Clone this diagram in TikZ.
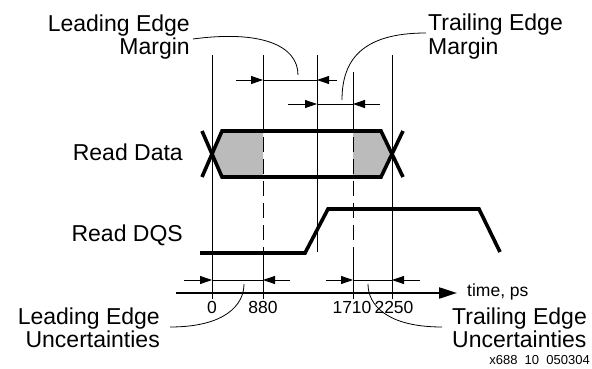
\documentclass[tikz,border=0pt]{standalone}
\usepackage{fontspec}
\setmainfont{Liberation Sans}
\usetikzlibrary{arrows.meta}
\definecolor{greyfill}{RGB}{187,187,187}
\begin{document}
\begin{tikzpicture}[x=1pt,y=-1pt,
  lbl/.style={font=\fontsize{23}{23}\selectfont, inner sep=0pt},
  ticklbl/.style={font=\fontsize{17.5}{17.5}\selectfont, inner sep=0pt, anchor=base},
  guide/.style={line width=0.8pt},
  dashguide/.style={line width=0.8pt, dash pattern=on 15pt off 7pt},
  wave/.style={line width=3.6pt, line join=miter},
  dim/.style={line width=0.8pt},
  dimtip/.style={line width=0.8pt, -{Triangle[length=12pt,width=8pt]}},
  leader/.style={line width=0.8pt},
]
\useasboundingbox (0,0) rectangle (592,369);

% grey uncertainty regions of Read Data
\fill[greyfill] (212,154) -- (222,131) -- (263,131) -- (263,177) -- (222,177) -- cycle;
\fill[greyfill] (353,131) -- (381,131) -- (392,154) -- (381,177) -- (353,177) -- cycle;

% guide lines
\draw[guide] (212,55) -- (212,299);
\draw[guide] (263,55) -- (263,115);
\draw[dashguide] (263,115) -- (263,258);
\draw[guide] (263,258) -- (263,299);
\draw[guide] (317,55) -- (317,252);
\draw[guide] (353,72) -- (353,115);
\draw[dashguide] (353,115) -- (353,258);
\draw[guide] (353,258) -- (353,299);
\draw[guide] (392,55) -- (392,299);

% margin dimensions
\draw[dimtip] (236,80) -- (263,80);
\draw[dim] (263,80) -- (317,80);
\draw[dimtip] (337,80) -- (317,80);
\draw[dimtip] (288,104) -- (317,104);
\draw[dim] (317,104) -- (353,104);
\draw[dimtip] (380,104) -- (353,104);

% uncertainty dimensions
\draw[dimtip] (184,280) -- (212,280);
\draw[dim] (212,280) -- (263,280);
\draw[dimtip] (290,280) -- (263,280);
\draw[dimtip] (326,280) -- (353,280);
\draw[dim] (353,280) -- (392,280);
\draw[dimtip] (420,280) -- (392,280);

% Read Data waveform
\draw[wave] (202,177) -- (222,131) -- (381,131) -- (403,177);
\draw[wave] (202,131) -- (222,177) -- (381,177) -- (403,131);

% Read DQS waveform
\draw[wave] (200,253) -- (305,253) -- (328,209) -- (479,209) -- (500,252);

% time axis
\draw[line width=2.2pt, -{Triangle[length=18pt,width=11pt]}] (176,293) -- (457,293);
\node[ticklbl] (l0) at (212,313) {0};
\node[ticklbl] (l880) at (263,313) {880};
\node[ticklbl] (l1710) at (352,313) {1710};
\node[ticklbl] (l2250) at (394,313) {2250};
\node[ticklbl, anchor=base west] (tl) at (467,296) {time, ps};

% signal names
\node[lbl, anchor=base east] (rd) at (183,160) {Read Data};
\node[lbl, anchor=base east] (rq) at (183,241) {Read DQS};

% top labels
\node[lbl, anchor=base east] (lem1) at (190,32) {Leading Edge};
\node[lbl, anchor=base east] (lem2) at (190,55) {Margin};
\node[lbl, anchor=base west] (tem1) at (428,31) {Trailing Edge};
\node[lbl, anchor=base west] (tem2) at (428,55) {Margin};

% bottom labels
\node[lbl, anchor=base east] (leu1) at (160,324) {Leading Edge};
\node[lbl, anchor=base east] (leu2) at (160,347) {Uncertainties};
\node[lbl, anchor=base west] (teu1) at (452,324) {Trailing Edge};
\node[lbl, anchor=base west] (teu2) at (452,347) {Uncertainties};

\node[font=\fontsize{13}{13}\selectfont, inner sep=0pt, anchor=base east] (fig) at (590,364) {x688\ \ 10\ \ 050304};

% leader curves
\coordinate (lemS) at ([xshift=3pt,yshift=16pt]lem2.base east);
\coordinate (lemE) at (298,75);
\draw[leader] (lemS) .. controls (260,30) and (298,45) .. (lemE);
\coordinate (temS) at ([xshift=-2pt,yshift=-2pt]tem1.base west);
\coordinate (temE) at (342,100);
\draw[leader] (temS) .. controls (362,33) and (342,60) .. (temE);
\coordinate (leuS) at ([xshift=10pt,yshift=-3pt]leu1.base east);
\coordinate (leuE) at (244,284);
\draw[leader] (leuS) .. controls (225,327) and (244,305) .. (leuE);
\coordinate (teuS) at ([xshift=-10pt,yshift=-3pt]teu1.base west);
\coordinate (teuE) at (368,284);
\draw[leader] (teuS) .. controls (387,327) and (368,305) .. (teuE);
\end{tikzpicture}
\end{document}
